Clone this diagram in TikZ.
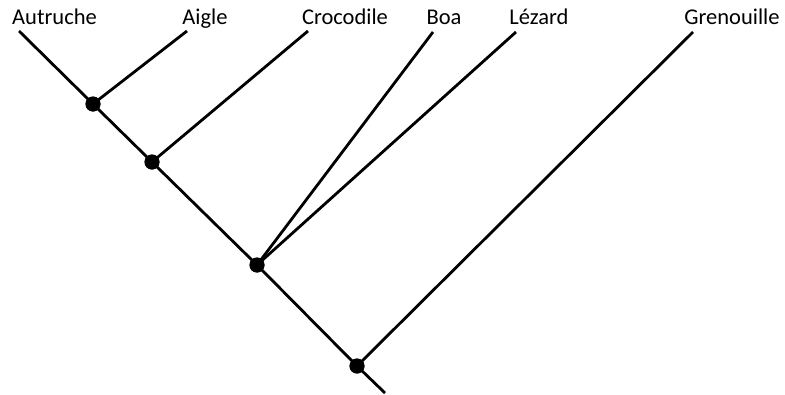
\documentclass[tikz,border=0pt]{standalone}
\usepackage{fontspec}
\setmainfont{Carlito}
\begin{document}
\begin{tikzpicture}[x=1pt,y=-1pt,
  branch/.style={line width=2.8pt},
  junction/.style={circle,fill=black,inner sep=0pt,minimum size=15pt},
  taxon/.style={anchor=base,inner sep=0pt,font=\fontsize{22.5}{27}\selectfont}]
\useasboundingbox (0,0) rectangle (785,394);
% leaf ends
\coordinate (tA) at (19,31);
\coordinate (tB) at (187,31);
\coordinate (tC) at (308,31);
\coordinate (tD) at (433,32);
\coordinate (tE) at (516,32);
\coordinate (tF) at (693,32);
\coordinate (root) at (385,393);
% junctions
\node[junction] (n1) at (93,104) {};
\node[junction] (n2) at (152,162) {};
\node[junction] (n3) at (257,265) {};
\node[junction] (n4) at (357,366) {};
% branches
\draw[branch] (tA) -- (n1.center) -- (n2.center) -- (n3.center) -- (n4.center) -- (root);
\draw[branch] (n1.center) -- (tB);
\draw[branch] (n2.center) -- (tC);
\draw[branch] (n3.center) -- (tD);
\draw[branch] (n3.center) -- (tE);
\draw[branch] (n4.center) -- (tF);
% redraw junction dots on top
\node[junction] at (n1) {};
\node[junction] at (n2) {};
\node[junction] at (n3) {};
\node[junction] at (n4) {};
% labels
\node[taxon] (lA) at (54.5,24) {Autruche};
\node[taxon] (lB) at (205,24) {Aigle};
\node[taxon] (lC) at (345,24) {Crocodile};
\node[taxon] (lD) at (444,24) {Boa};
\node[taxon] (lE) at (539,24) {Lézard};
\node[taxon] (lF) at (732,24) {Grenouille};
\end{tikzpicture}
\end{document}
